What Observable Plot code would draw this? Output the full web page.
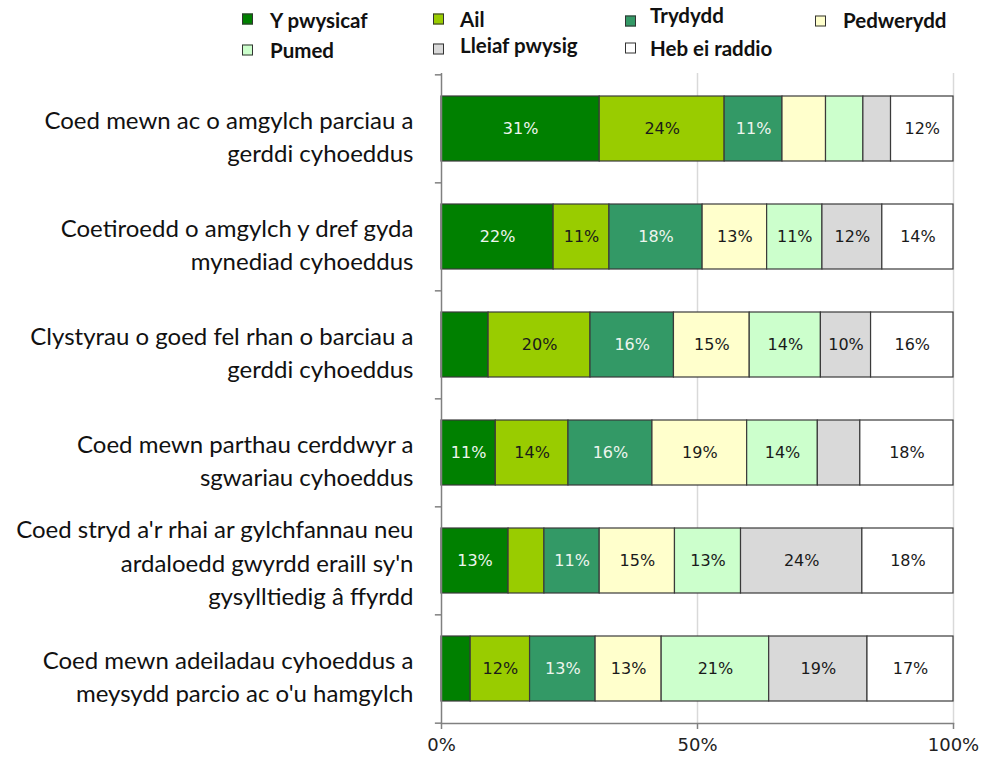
<!DOCTYPE html>
<html><head><meta charset="utf-8">
<script src="https://cdn.jsdelivr.net/npm/d3@7"></script>
<script src="https://cdn.jsdelivr.net/npm/@observablehq/plot@0.6"></script>
<style>
body{margin:0;background:#fff;}
#wrap{position:relative;width:983px;height:762px;}
#chart{position:absolute;left:0;top:0;}
.lg{position:absolute;font-family:Lato,"Open Sans",sans-serif;font-weight:700;font-size:20.5px;color:#111;white-space:nowrap;line-height:1;transform:translateY(-50%);}
.sw{position:absolute;width:9px;height:9px;border:1px solid #333;transform:translateY(-50%);}
</style>
</head><body>
<div id="wrap"><div id="chart"></div></div>
<script>
const categories = [
  "Coed mewn ac o amgylch parciau a\ngerddi cyhoeddus",
  "Coetiroedd o amgylch y dref gyda\nmynediad cyhoeddus",
  "Clystyrau o goed fel rhan o barciau a\ngerddi cyhoeddus",
  "Coed mewn parthau cerddwyr a\nsgwariau cyhoeddus",
  "Coed stryd a'r rhai ar gylchfannau neu\nardaloedd gwyrdd eraill sy'n\ngysylltiedig â ffyrdd",
  "Coed mewn adeiladau cyhoeddus a\nmeysydd parcio ac o'u hamgylch"
];
const ranks = ["Y pwysicaf","Ail","Trydydd","Pedwerydd","Pumed","Lleiaf pwysig","Heb ei raddio"];
const colors = ["#008000","#99cc00","#339966","#ffffcc","#ccffcc","#d9d9d9","#ffffff"];
const yPwysicaf = [30.9, 21.9, 9.2, 10.6, 13.1, 5.7];
const ail       = [24.4, 10.9, 19.9, 14.2, 7.0, 11.6];
const trydydd   = [11.3, 18.2, 16.3, 16.4, 10.8, 12.8];
const pedwerydd = [8.5, 12.6, 14.8, 18.5, 14.7, 12.9];
const pumed     = [7.3, 10.8, 13.9, 13.8, 12.9, 21.0];
const lleiaf    = [5.4, 11.7, 9.8, 8.3, 23.7, 19.2];
const heb       = [12.2, 13.9, 16.1, 18.2, 17.8, 16.8];
const xTicks = [0, 50, 100];

const series = [yPwysicaf, ail, trydydd, pedwerydd, pumed, lleiaf, heb];
const data = [];
categories.forEach((c, i) => series.forEach((s, k) => data.push({cat: c, rank: ranks[k], value: s[i], k})));

const W = 983, H = 762, mT = 73, mB = 39, mL = 441, mR = 30;
const step = (H - mT - mB) / categories.length;
const darkText = new Set(["Y pwysicaf", "Trydydd"]);

const chart = Plot.plot({
  width: W, height: H,
  marginTop: mT, marginBottom: mB, marginLeft: mL, marginRight: mR,
  style: {fontFamily: "DejaVu Sans, Verdana, sans-serif", background: "#fff"},
  x: {domain: [0, 100], axis: null, label: null},
  y: {domain: categories, paddingInner: 0.4, paddingOuter: 0.2, axis: null},
  color: {domain: ranks, range: colors},
  marks: [
    Plot.ruleX([50, 100], {stroke: "#d9d9d9", strokeWidth: 1.5}),
    Plot.barX(data, Plot.stackX({x: "value", y: "cat", fill: "rank", order: ranks, stroke: "#3a3a3a", strokeWidth: 1.2})),
    Plot.text(data, Plot.stackX({x: "value", y: "cat", z: "rank", order: ranks,
      text: d => d.value >= 9.5 ? Math.round(d.value) + "%" : "",
      fill: d => darkText.has(d.rank) ? "#eef5ee" : "#1a1a1a", fontSize: 16})),
    Plot.ruleX([0], {stroke: "#808080", strokeWidth: 1.5}),
    Plot.frame({anchor: "bottom", stroke: "#808080", strokeWidth: 1.5}),
    Plot.ruleY(categories, {y: d => d, x1: 0, x2: -1.2, dy: -step / 2, stroke: "#808080", strokeWidth: 1.5}),
    Plot.ruleY(categories.slice(-1), {y: d => d, x1: 0, x2: -1.2, dy: step / 2, stroke: "#808080", strokeWidth: 1.5}),
    Plot.axisX({ticks: xTicks, tickFormat: d => d + "%", label: null, tickSize: 6, tickPadding: 9, fontSize: 18, stroke: "#808080", strokeWidth: 1.5, color: "#222"}),
    Plot.text(categories.filter(c => c.split("\n").length === 2), {y: d => d, text: d => d, frameAnchor: "left", textAnchor: "end", dx: -28, dy: 6, lineHeight: 1.36, fontSize: 24, fontFamily: "Lato, 'Open Sans', sans-serif", fill: "#111"}),
    Plot.text(categories.filter(c => c.split("\n").length !== 2), {y: d => d, text: d => d, frameAnchor: "left", textAnchor: "end", dx: -28, lineHeight: 1.38, fontSize: 24, fontFamily: "Lato, 'Open Sans', sans-serif", fill: "#111"})
  ]
});
document.getElementById("chart").appendChild(chart);

// legend
const legendLayout = [
  [242, 19, 270, 20], [433, 19, 460, 19], [625, 21, 650, 15], [815, 21, 843, 20],
  [242, 50, 270, 50], [433, 49, 460, 45], [625, 48, 650, 48]
];
const wrap = document.getElementById("wrap");
ranks.forEach((r, i) => {
  const [sx, sy, tx, ty] = legendLayout[i];
  const sw = document.createElement("div");
  sw.className = "sw"; sw.style.left = sx + "px"; sw.style.top = sy + "px"; sw.style.background = colors[i];
  wrap.appendChild(sw);
  const t = document.createElement("div");
  t.className = "lg"; t.style.left = tx + "px"; t.style.top = ty + "px"; t.textContent = r;
  wrap.appendChild(t);
});
</script>
</body></html>
